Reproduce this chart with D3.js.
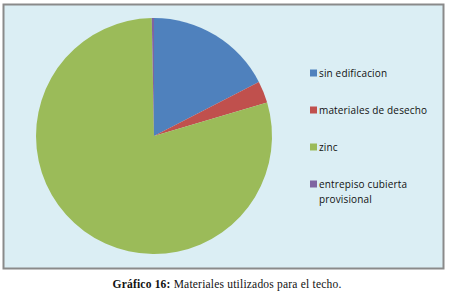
<!DOCTYPE html>
<html lang="es">
  <head>
    <meta charset="UTF-8">
    <title>Materiales utilizados para el techo</title>
    <style>
      body { margin: 0; background: #fff; }
    </style>
  </head>
  <body>
    <div id="chart"></div>
    <script src="https://d3js.org/d3.v7.js"></script>
    <script>
        // data
        var categories = ["sin edificacion", "materiales de desecho", "zinc", "entrepiso cubierta provisional"];
        var values = [58, 10, 264, 1];
        var colors = ["#4f81bd", "#c0504d", "#9bbb59", "#8064a2"];
        var legendLines = [["sin edificacion"], ["materiales de desecho"], ["zinc"], ["entrepiso cubierta", "provisional"]];

        var width = 449, height = 301;

        var svg = d3.select("#chart")
          .append("svg")
            .attr("width", width)
            .attr("height", height);

        // chart frame
        svg.append("rect")
            .attr("x", 3.5).attr("y", 4.5)
            .attr("width", 440).attr("height", 264)
            .style("fill", "#dbeef4")
            .style("stroke", "#8a8a8a")
            .style("stroke-width", 2);

        var pie = d3.pie().sort(null).value(function(d){ return d; });
        var arc = d3.arc().innerRadius(0).outerRadius(118);

        var g = svg.append("g")
            .attr("transform", "translate(154,136)");

        g.selectAll("path")
          .data(pie(values))
          .enter()
          .append("path")
            .attr("d", arc)
            .style("fill", function(d, i){ return colors[i]; });

        // legend
        var legendY = d3.scalePoint().domain(categories).range([73, 184]);

        var item = svg.selectAll(".legend")
          .data(categories)
          .enter()
          .append("g")
            .attr("class", "legend")
            .attr("transform", function(d){ return "translate(310," + legendY(d) + ")"; });

        item.append("rect")
            .attr("x", 0).attr("y", -3.5)
            .attr("width", 7).attr("height", 7)
            .style("fill", function(d, i){ return colors[i]; });

        item.append("text")
            .style("font-family", "Open Sans, sans-serif")
            .style("font-size", "10px")
            .style("letter-spacing", "0.15px")
            .style("fill", "#111")
          .selectAll("tspan")
          .data(function(d, i){ return legendLines[i]; })
          .enter()
          .append("tspan")
            .attr("x", 9)
            .attr("y", function(d, j){ return j * 15; })
            .attr("dy", "0.35em")
            .text(function(d){ return d; });

        // caption
        var cap = svg.append("text")
            .attr("x", 227).attr("y", 288)
            .attr("text-anchor", "middle")
            .style("font-family", "Liberation Serif, serif")
            .style("font-size", "11.5px")
            .style("letter-spacing", "0.2px")
            .style("fill", "#111");
        cap.append("tspan").style("font-weight", "bold").text("Gráfico 16:");
        cap.append("tspan").text(" Materiales utilizados para el techo.");
    </script>
  </body>
</html>
